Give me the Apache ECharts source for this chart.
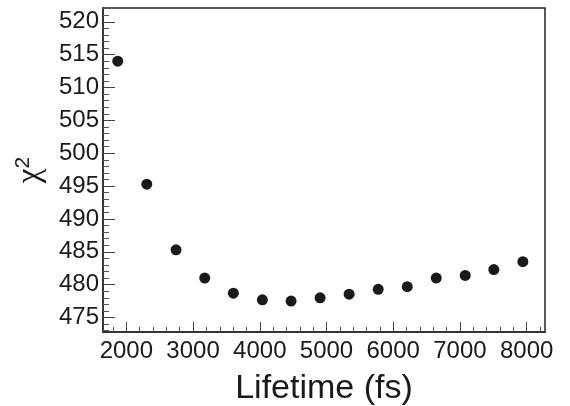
<!DOCTYPE html>
<html>
<head>
<meta charset="utf-8">
<script src="https://cdn.jsdelivr.net/npm/echarts@6/dist/echarts.min.js"></script>
<style>html,body{margin:0;padding:0;background:#fff}#c{width:570px;height:406px}</style>
</head>
<body>
<div id="c"></div>
<script>
// Data
const lifetimes = [1871, 2306, 2745, 3175, 3604, 4039, 4469, 4904, 5339, 5775, 6210, 6645, 7079, 7508, 7943];
const chi2 = [514.0, 495.3, 485.3, 481.0, 478.7, 477.7, 477.5, 478.0, 478.55, 479.3, 479.7, 481.0, 481.4, 482.3, 483.5];
const xMajorTicks = [2000, 3000, 4000, 5000, 6000, 7000, 8000];
const xMinorTicks = [1800, 2200, 2400, 2600, 2800, 3200, 3400, 3600, 3800, 4200, 4400, 4600, 4800, 5200, 5400, 5600, 5800, 6200, 6400, 6600, 6800, 7200, 7400, 7600, 7800, 8200];
const yMajorTicks = [475, 480, 485, 490, 495, 500, 505, 510, 515, 520];
const yMinorTicks = [473, 474, 476, 477, 478, 479, 481, 482, 483, 484, 486, 487, 488, 489, 491, 492, 493, 494, 496, 497, 498, 499, 501, 502, 503, 504, 506, 507, 508, 509, 511, 512, 513, 514, 516, 517, 518, 519, 521, 522];
const xRange = [1650, 8275];
const yRange = [472.8, 522.1];

const FONT = '"Liberation Sans", Arial, sans-serif';
const chart = echarts.init(document.getElementById('c'), null, {renderer: 'canvas'});
const points = lifetimes.map((x, i) => [x, chi2[i]]);

chart.setOption({
  animation: false,
  backgroundColor: '#fff',
  grid: {
    left: 103, right: 25, top: 8, bottom: 74,
    containLabel: false, outerBoundsMode: 'none',
    show: true, borderColor: '#222', borderWidth: 1.5, backgroundColor: 'transparent'
  },
  xAxis: [
    {
      type: 'value', min: xRange[0], max: xRange[1], position: 'bottom',
      name: 'Lifetime (fs)', nameLocation: 'middle', nameGap: 40,
      nameTextStyle: {fontFamily: FONT, fontSize: 34, color: '#1a1a1a', verticalAlign: 'top'},
      axisLine: {show: true, onZero: false, lineStyle: {color: '#333', width: 1.8}},
      axisTick: {show: true, inside: true, length: 10, customValues: xMajorTicks, lineStyle: {color: '#444', width: 1}},
      axisLabel: {show: true, customValues: xMajorTicks, margin: 7, fontFamily: FONT, fontSize: 24, color: '#1a1a1a', formatter: v => String(v)},
      splitLine: {show: false}
    },
    {
      type: 'value', min: xRange[0], max: xRange[1], position: 'bottom',
      axisLine: {show: true, onZero: false, lineStyle: {color: 'rgba(0,0,0,0)'}},
      axisTick: {show: true, inside: true, length: 5, customValues: xMinorTicks, lineStyle: {color: '#555', width: 1}},
      axisLabel: {show: false},
      splitLine: {show: false}
    }
  ],
  yAxis: [
    {
      type: 'value', min: yRange[0], max: yRange[1], position: 'left',
      name: '{c|χ}{s|2}', nameLocation: 'middle', nameGap: 55, nameRotate: 90,
      nameTextStyle: {
        rich: {
          c: {fontFamily: '"Liberation Serif", "DejaVu Serif", serif', fontSize: 33, color: '#1a1a1a'},
          s: {fontFamily: FONT, fontSize: 21, color: '#1a1a1a', verticalAlign: 'top', padding: [0, 0, 14, 0]}
        }
      },
      axisLine: {show: true, onZero: false, lineStyle: {color: '#333', width: 1.8}},
      axisTick: {show: true, inside: true, length: 12, customValues: yMajorTicks, lineStyle: {color: '#444', width: 1}},
      axisLabel: {show: true, customValues: yMajorTicks, margin: 4, fontFamily: FONT, fontSize: 24, color: '#1a1a1a'},
      splitLine: {show: false}
    },
    {
      type: 'value', min: yRange[0], max: yRange[1], position: 'left',
      axisLine: {show: true, onZero: false, lineStyle: {color: 'rgba(0,0,0,0)'}},
      axisTick: {show: true, inside: true, length: 6, customValues: yMinorTicks, lineStyle: {color: '#555', width: 1}},
      axisLabel: {show: false},
      splitLine: {show: false}
    }
  ],
  series: [{
    type: 'scatter', xAxisIndex: 0, yAxisIndex: 0,
    data: points, symbol: 'circle', symbolSize: 11,
    itemStyle: {color: '#1a1a1a', opacity: 1}
  }]
});
</script>
</body>
</html>
